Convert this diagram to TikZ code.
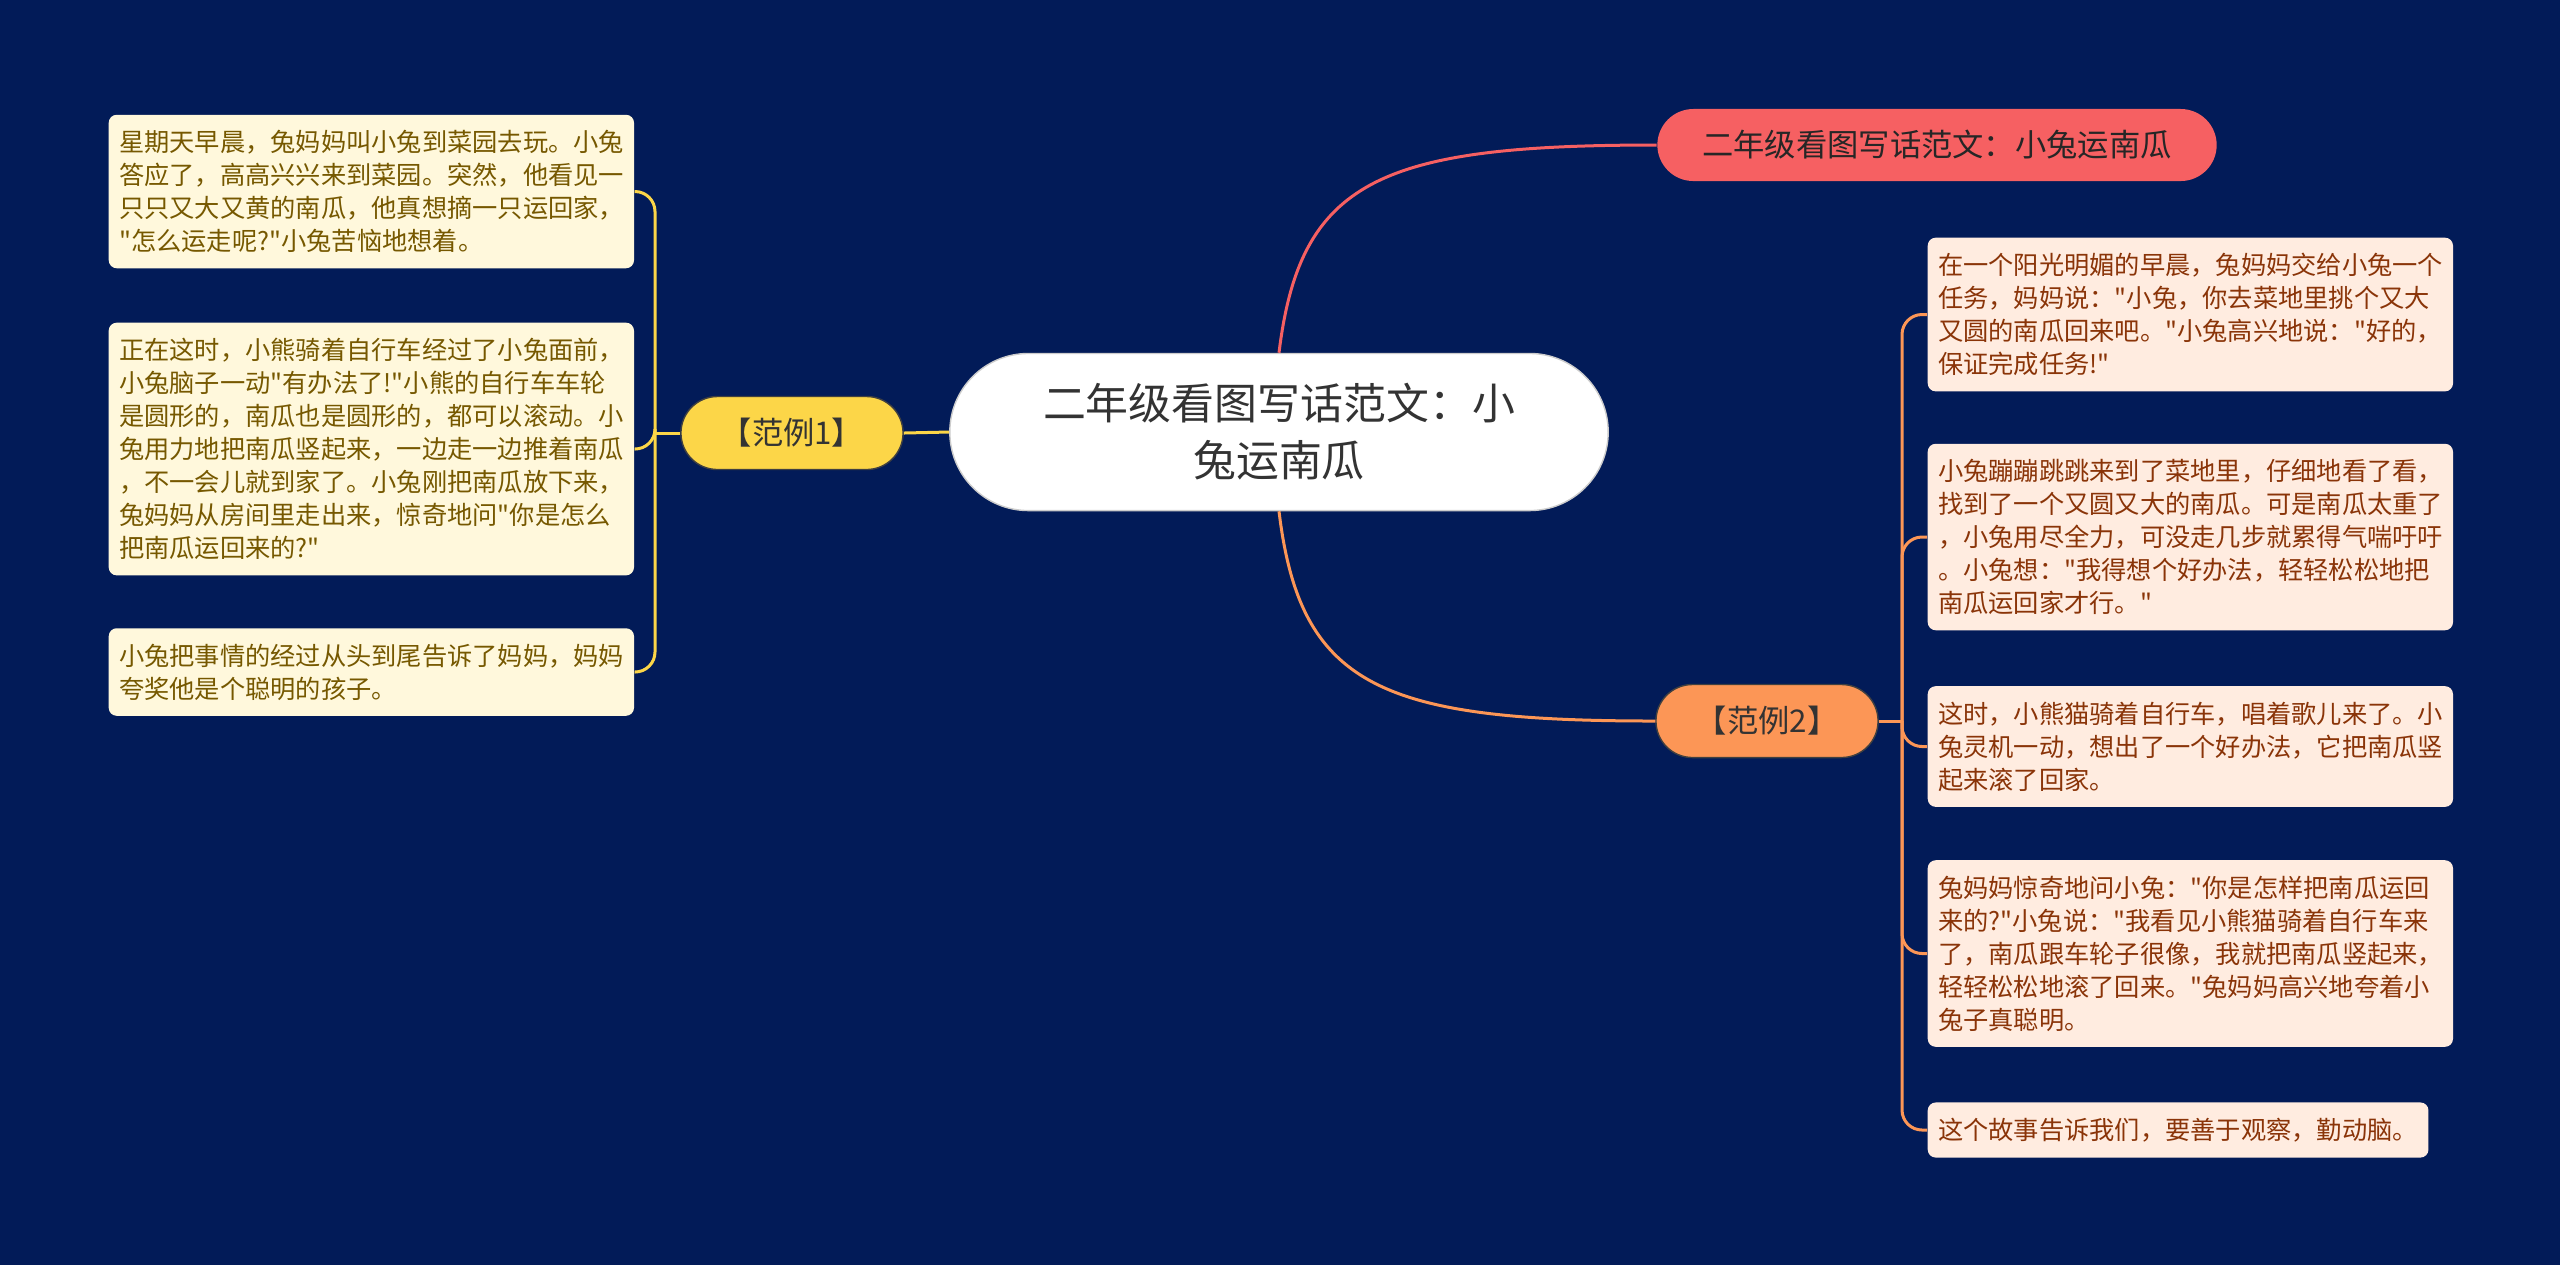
\documentclass[tikz,border=0pt]{standalone}
\usepackage{fontspec}
\setmainfont{Noto Sans CJK SC}[Ligatures=TeXOff]
\usepackage{tikz}
\usetikzlibrary{positioning,calc}
\definecolor{bgnavy}{RGB}{2,27,88}
\definecolor{sun}{RGB}{252,214,72}
\definecolor{apricot}{RGB}{252,150,86}
\definecolor{coral}{RGB}{246,96,98}
\definecolor{cream}{RGB}{255,248,220}
\definecolor{peach}{RGB}{255,236,224}
\definecolor{olive}{RGB}{118,88,0}
\definecolor{rust}{RGB}{138,52,8}
\newcommand{\leafsz}{\fontsize{7.18pt}{9.39pt}\selectfont}
\newcommand{\hubsz}{\fontsize{12.2pt}{16.2pt}\selectfont}
\newcommand{\tagsz}{\fontsize{8.9pt}{11pt}\selectfont}

\begin{document}
\begin{tikzpicture}[x=0.01cm,y=-0.01cm,
    leaf/.style={rounded corners=0.08cm,align=left,font=\leafsz,inner xsep=0.105cm,inner ysep=0.155cm,anchor=west},
    lleaf/.style={leaf,fill=cream,text=olive,text width=5.04cm},
    rleaf/.style={leaf,fill=peach,text=rust,text width=5.04cm},
    tag/.style={rounded corners=0.365cm,minimum width=2.22cm,minimum height=0.73cm,font=\tagsz,text=black!80,draw=black!75,line width=0.4pt},
    ylink/.style={sun,line width=0.03cm},
    olink/.style={apricot,line width=0.03cm},
    clink/.style={coral,line width=0.03cm}]
  \fill[bgnavy] (0,0) rectangle (2560,1265);
  % centre and main branches
  \node[fill=white,draw=black!20,rounded corners=0.785cm,minimum width=6.58cm,minimum height=1.57cm,align=center,font=\hubsz,text=black!80] (hub) at (1279,432) {二年级看图写话范文：小\\兔运南瓜};
  \node[fill=coral,rounded corners=0.36cm,minimum width=5.59cm,minimum height=0.72cm,font=\tagsz,text=black!85] (ttl) at (1937,145) {二年级看图写话范文：小兔运南瓜};
  \node[tag,fill=sun] (ex1) at (792,433) {【范例1】};
  \node[tag,fill=apricot] (ex2) at (1767,721) {【范例2】};
  \draw[clink] (hub.north) .. controls (1300,180) and (1380,145) .. (ttl.west);
  \draw[olink] (hub.south) .. controls (1300,686) and (1380,721) .. (ex2.west);
  \draw[ylink] (hub.west) -- (ex1.east);
  % left leaves
  \node[lleaf] (l1) at (108,191.5) {星期天早晨，兔妈妈叫小兔到菜园去玩。小兔\\答应了，高高兴兴来到菜园。突然，他看见一\\只只又大又黄的南瓜，他真想摘一只运回家，\\"怎么运走呢?"小兔苦恼地想着。};
  \node[lleaf] (l2) at (108,449) {正在这时，小熊骑着自行车经过了小兔面前，\\小兔脑子一动"有办法了!"小熊的自行车车轮\\是圆形的，南瓜也是圆形的，都可以滚动。小\\兔用力地把南瓜竖起来，一边走一边推着南瓜\\，不一会儿就到家了。小兔刚把南瓜放下来，\\兔妈妈从房间里走出来，惊奇地问"你是怎么\\把南瓜运回来的?"};
  \node[lleaf] (l3) at (108,672) {小兔把事情的经过从头到尾告诉了妈妈，妈妈\\夸奖他是个聪明的孩子。};
  % right leaves
  \node[rleaf] (r1) at (1927,314.5) {在一个阳光明媚的早晨，兔妈妈交给小兔一个\\任务，妈妈说："小兔，你去菜地里挑个又大\\又圆的南瓜回来吧。"小兔高兴地说："好的，\\保证完成任务!"};
  \node[rleaf] (r2) at (1927,537) {小兔蹦蹦跳跳来到了菜地里，仔细地看了看，\\找到了一个又圆又大的南瓜。可是南瓜太重了\\，小兔用尽全力，可没走几步就累得气喘吁吁\\。小兔想："我得想个好办法，轻轻松松地把\\南瓜运回家才行。"};
  \node[rleaf] (r3) at (1927,746.5) {这时，小熊猫骑着自行车，唱着歌儿来了。小\\兔灵机一动，想出了一个好办法，它把南瓜竖\\起来滚了回家。};
  \node[rleaf] (r4) at (1927,953.5) {兔妈妈惊奇地问小兔："你是怎样把南瓜运回\\来的?"小兔说："我看见小熊猫骑着自行车来\\了，南瓜跟车轮子很像，我就把南瓜竖起来，\\轻轻松松地滚了回来。"兔妈妈高兴地夸着小\\兔子真聪明。};
  \node[leaf,fill=peach,text=rust] (r5) at (1927,1130) {这个故事告诉我们，要善于观察，勤动脑。};
  % brackets
  \coordinate (fk1) at (655,433);
  \coordinate (fk2) at (1902,721);
  \draw[ylink] (ex1.west) -- (fk1);
  \draw[olink] (ex2.east) -- (fk2);
  \foreach \k in {l1,l2,l3} \draw[ylink,rounded corners=0.2cm] (fk1) |- (\k.east);
  \foreach \k in {r1,r2,r3,r4,r5} \draw[olink,rounded corners=0.2cm] (fk2) |- (\k.west);
\end{tikzpicture}
\end{document}
